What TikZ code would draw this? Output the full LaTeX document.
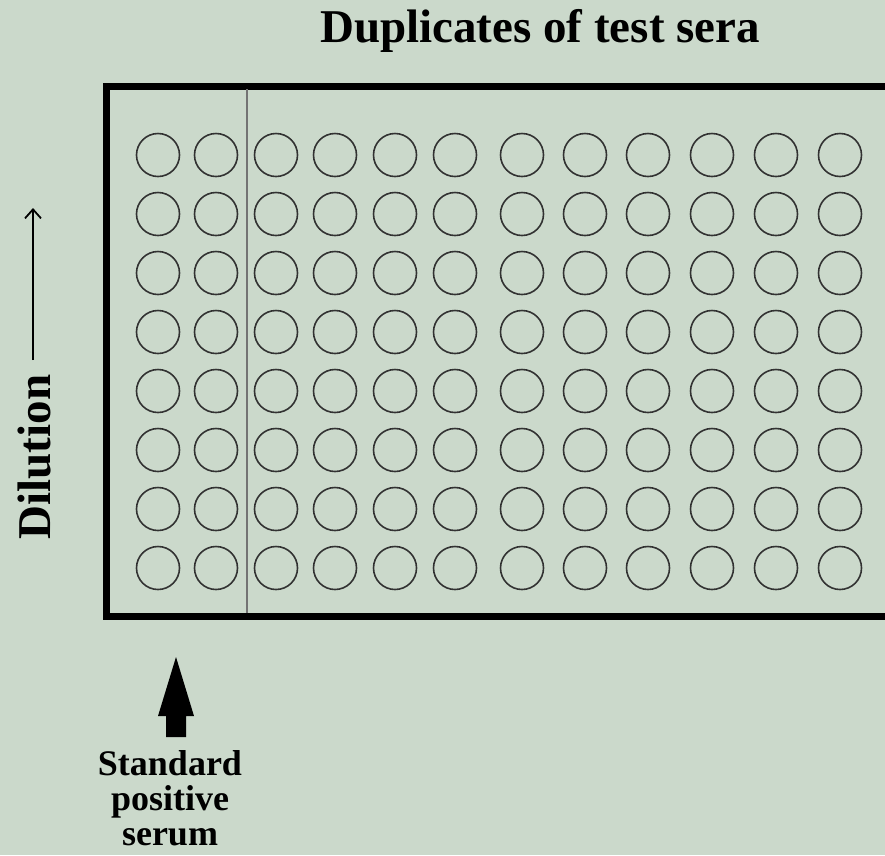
\documentclass[tikz,border=0pt]{standalone}
\usepackage{fontspec}
\setmainfont{Liberation Serif}
\usetikzlibrary{arrows.meta}
\definecolor{bgc}{RGB}{203,217,203}
\definecolor{wellc}{RGB}{50,50,50}
\tikzset{
  well/.style={circle, draw=wellc, line width=1.6pt, minimum size=43pt, inner sep=0pt},
  frameline/.style={line width=7pt, line cap=butt, line join=miter},
  divider/.style={draw=black!55, line width=1.6pt},
  bigtext/.style={font=\fontsize{47}{47}\selectfont\bfseries, inner sep=0pt},
  labeltext/.style={font=\fontsize{36}{35}\selectfont\bfseries, inner sep=0pt, align=center},
  thinarrow/.style={line width=1.8pt, -{Straight Barb[length=9pt,width=16pt,line width=1.8pt]}},
}
\begin{document}
\begin{tikzpicture}[x=1pt,y=-1pt]
\fill[bgc] (0,0) rectangle (885,855);
\useasboundingbox (0,0) rectangle (885,855);
% plate frame
\draw[frameline] (890,86) -- (106,86) -- (106,616) -- (890,616);
\coordinate (divtop) at (247,89);
\coordinate (divbot) at (247,613);
\draw[divider] (divtop) -- (divbot);
% wells
\foreach \c/\x in {1/158,2/216,3/276,4/335,5/395,6/455,7/522,8/585,9/648,10/712,11/776,12/840}{
  \foreach \r in {1,...,8}{
    \node[well] (w-\r-\c) at (\x,{155+(\r-1)*59}) {};
  }
}
% title
\node[bigtext, anchor=base] (title) at (540,42) {Duplicates of test sera};
% dilution
\node[bigtext, anchor=base, rotate=90] (dil) at (50,457) {Dilution};
\coordinate (dilA) at (33,360);
\coordinate (dilB) at (33,208);
\draw[thinarrow] (dilA) -- (dilB);
% standard positive serum
\node[labeltext, anchor=north] (std) at (170,750) {Standard\\positive\\serum};
\coordinate (tip) at (176,657);
\fill[black] (tip) -- (194,716) -- (186,716) -- (186,737) -- (166,737) -- (166,716) -- (158,716) -- cycle;
\end{tikzpicture}
\end{document}
